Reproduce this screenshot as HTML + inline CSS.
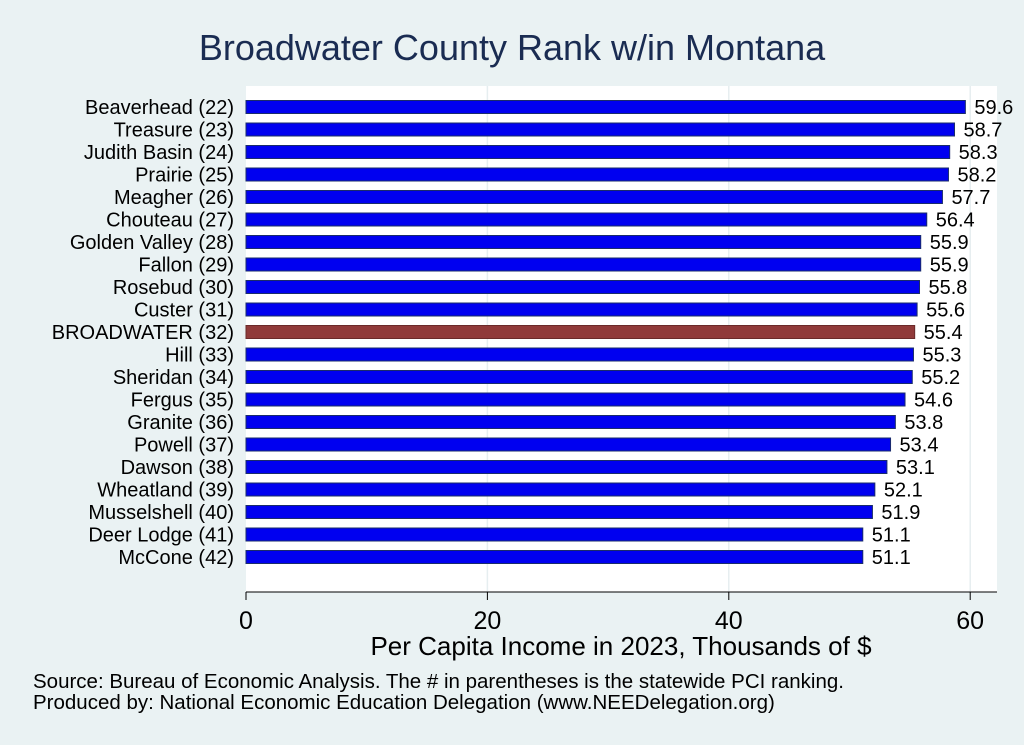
<!DOCTYPE html>
<html><head><meta charset="utf-8"><style>
body{margin:0;background:#eaf2f3;}
svg{display:block;font-family:"Liberation Sans",Arial,sans-serif;}
</style></head><body>
<svg id="chart" width="1024" height="745">
<rect x="0" y="0" width="1024" height="745" fill="#eaf2f3"/>
<text x="512" y="60" text-anchor="middle" font-size="36" fill="#1a2c52">Broadwater County Rank w/in Montana</text>
<rect x="246" y="86" width="751" height="506" fill="#fff"/>
<g id="grid"></g>
<g id="bars"></g>
<g id="axis"></g>
<text x="621" y="655" text-anchor="middle" font-size="26" fill="#000">Per Capita Income in 2023, Thousands of $</text>
<text x="33" y="688" font-size="20.5" fill="#000">Source: Bureau of Economic Analysis. The # in parentheses is the statewide PCI ranking.</text>
<text x="33" y="709" font-size="20.5" fill="#000">Produced by: National Economic Education Delegation (www.NEEDelegation.org)</text>
</svg>
<script>
const categories=["Beaverhead (22)","Treasure (23)","Judith Basin (24)","Prairie (25)","Meagher (26)","Chouteau (27)","Golden Valley (28)","Fallon (29)","Rosebud (30)","Custer (31)","BROADWATER (32)","Hill (33)","Sheridan (34)","Fergus (35)","Granite (36)","Powell (37)","Dawson (38)","Wheatland (39)","Musselshell (40)","Deer Lodge (41)","McCone (42)"];
const values=[59.6,58.7,58.3,58.2,57.7,56.4,55.9,55.9,55.8,55.6,55.4,55.3,55.2,54.6,53.8,53.4,53.1,52.1,51.9,51.1,51.1];
const highlight="BROADWATER (32)";
const xTicks=[0,20,40,60];
const NS="http://www.w3.org/2000/svg";
const x0=246,pxPer=12.07,y0=107,step=22.5,bh=13;
const xs=v=>x0+v*pxPer;
const ys=i=>y0+i*step;
function mk(t,a,p){const e=document.createElementNS(NS,t);for(const k in a)e.setAttribute(k,a[k]);p.appendChild(e);return e;}
const grid=document.getElementById('grid'),bars=document.getElementById('bars'),axis=document.getElementById('axis');
xTicks.forEach(t=>{
 if(t>0){const g=mk('line',{x1:xs(t),x2:xs(t),y1:86,y2:592,stroke:'#e6eef0','stroke-width':1.5},grid);
 
 }
 const tk=mk('line',{x1:xs(t),x2:xs(t),y1:592,y2:600,stroke:'#000','stroke-width':1},axis);
 
 
 const tl=mk('text',{x:xs(t),y:629,'text-anchor':'middle','font-size':25},axis);
 tl.textContent=t;
 
 
});
const ax=mk('line',{x1:246,x2:997,y1:592,y2:592,stroke:'#000','stroke-width':1},axis);


categories.forEach((c,i)=>{
 const y=ys(i),hi=c===highlight;
 const r=mk('rect',{x:x0,y:y-bh/2,width:xs(values[i])-x0,height:bh,fill:hi?'#903a3a':'#0000f0',stroke:hi?'#6a2a2a':'#1a2c6a','stroke-width':1},bars);
 
 
 const l=mk('text',{x:234,y:y+7,'text-anchor':'end','font-size':20},bars);
 l.textContent=c;
 
 
 const v=mk('text',{x:xs(values[i])+9,y:y+7,'font-size':20},bars);
 v.textContent=values[i].toFixed(1);
 
 
});
</script>
</body></html>
